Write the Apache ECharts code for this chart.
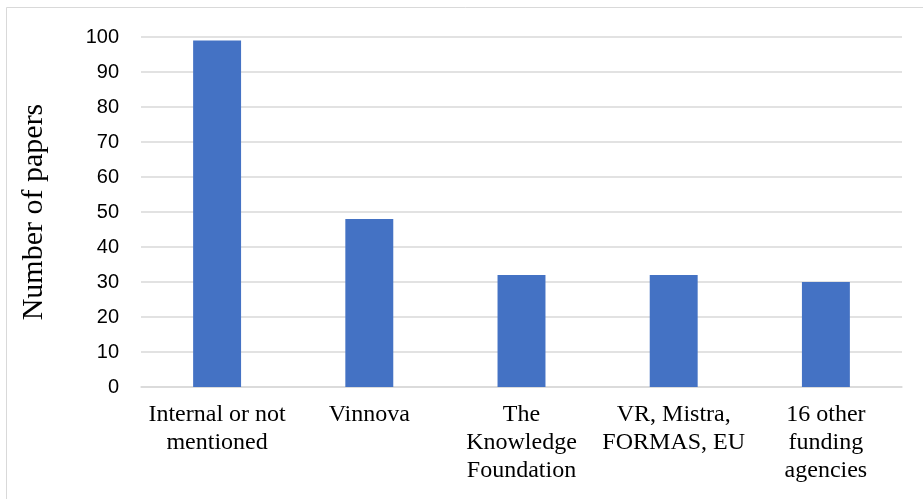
<!DOCTYPE html>
<html>
<head>
<meta charset="utf-8">
<script src="https://cdn.jsdelivr.net/npm/echarts@6/dist/echarts.min.js"></script>
<style>
	html, body { margin: 0; padding: 0; background: #fff; }
	#chart { width: 923px; height: 499px; }
</style>
</head>
<body>
<div id="chart"></div>
<script>
const categories = [
	'Internal or not\nmentioned',
	'Vinnova',
	'The\nKnowledge\nFoundation',
	'VR, Mistra,\nFORMAS, EU',
	'16 other\nfunding\nagencies'
]
const papers = [99, 48, 32, 32, 30]

const chart = echarts.init(document.getElementById('chart'))
chart.setOption({
	animation: false,
	backgroundColor: '#fff',
	graphic: [
		{
			type: 'rect',
			shape: { x: 6.5, y: 7.5, width: 920, height: 495 },
			style: { fill: 'none', stroke: '#d9d9d9', lineWidth: 1 },
			silent: true
		}
	],
	grid: {
		left: 141,
		right: 21,
		top: 37,
		bottom: 112
	},
	xAxis: {
		type: 'category',
		data: categories,
		axisTick: { show: false },
		axisLine: { lineStyle: { color: '#d9d9d9', width: 1.5 } },
		axisLabel: {
			interval: 0,
			margin: 14,
			color: '#000',
			fontFamily: 'Liberation Serif',
			fontSize: 24,
			lineHeight: 28
		}
	},
	yAxis: {
		type: 'value',
		min: 0,
		max: 100,
		interval: 10,
		name: 'Number of papers',
		nameLocation: 'middle',
		nameGap: 92,
		nameTextStyle: {
			color: '#000',
			fontFamily: 'Liberation Serif',
			fontSize: 30
		},
		axisLine: { show: false },
		axisTick: { show: false },
		axisLabel: {
			margin: 22,
			color: '#000',
			fontFamily: 'Liberation Sans',
			fontSize: 20
		},
		splitLine: { lineStyle: { color: '#d9d9d9', width: 1.5 } }
	},
	series: [
		{
			type: 'bar',
			data: papers,
			barWidth: '31.5%',
			itemStyle: { color: '#4472c4' }
		}
	]
})
</script>
</body>
</html>
